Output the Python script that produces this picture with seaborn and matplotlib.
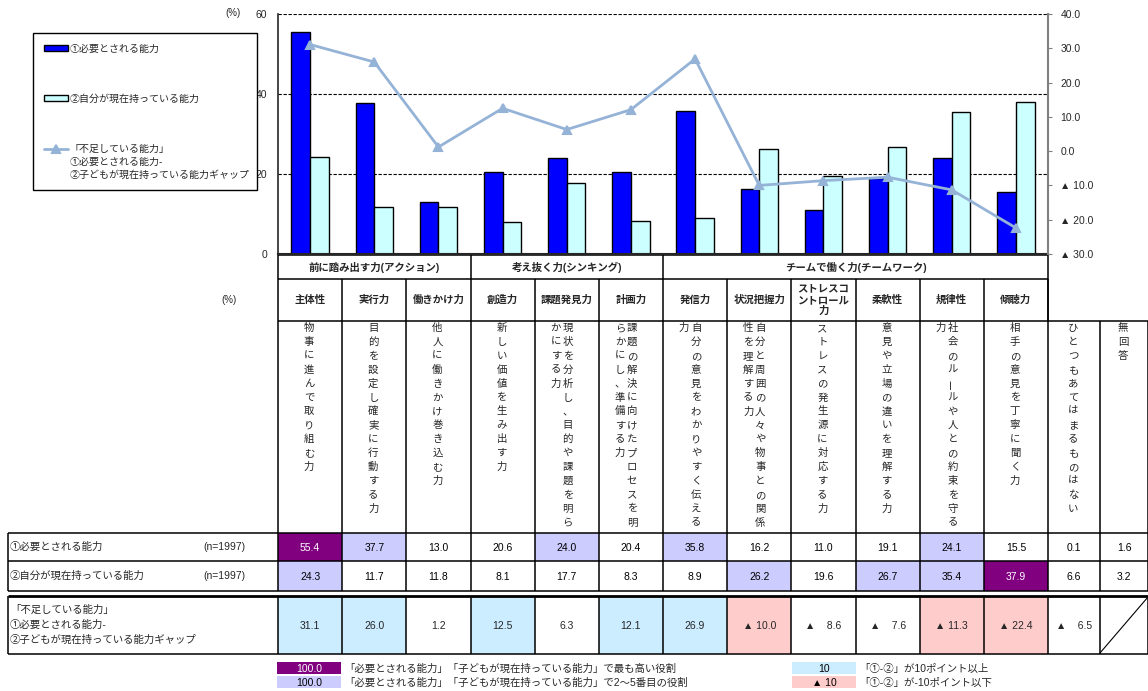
import numpy as np
import pandas as pd
import matplotlib
matplotlib.use('Agg')
import matplotlib.pyplot as plt
from matplotlib.patches import Rectangle
from matplotlib.legend_handler import HandlerLine2D
import seaborn as sns

sns.set_style('white')
plt.rcParams['font.family'] = ['Liberation Sans', 'Noto Sans CJK JP', 'DejaVu Sans']

# data
abilities = ['主体性', '実行力', '働きかけ力', '創造力', '課題発見力', '計画力',
             '発信力', '状況把握力', 'ストレスコ\nントロール\n力', '柔軟性', '規律性', '傾聴力']
needed = [55.4, 37.7, 13.0, 20.6, 24.0, 20.4, 35.8, 16.2, 11.0, 19.1, 24.1, 15.5]
own = [24.3, 11.7, 11.8, 8.1, 17.7, 8.3, 8.9, 26.2, 19.6, 26.7, 35.4, 37.9]
gap = [31.1, 26.0, 1.2, 12.5, 6.3, 12.1, 26.9, -10.0, -8.6, -7.6, -11.3, -22.4]
groups = ['前に踏み出す力(アクション)', '考え抜く力(シンキング)', 'チームで働く力(チームワーク)']
group_sizes = [3, 3, 6]
# description columns, right column first (vertical writing)
descriptions = [
    ['物事に進んで取り組む力'],
    ['目的を設定し確実に行動する力'],
    ['他人に働きかけ巻き込む力'],
    ['新しい価値を生み出す力'],
    ['現状を分析し、目的や課題を明ら', 'かにする力'],
    ['課題の解決に向けたプロセスを明', 'らかにし、準備する力'],
    ['自分の意見をわかりやすく伝える', '力'],
    ['自分と周囲の人々や物事との関係', '性を理解する力'],
    ['ストレスの発生源に対応する力'],
    ['意見や立場の違いを理解する力'],
    ['社会のルールや人との約束を守る', '力'],
    ['相手の意見を丁寧に聞く力'],
    ['ひとつもあてはまるものはない'],
    ['無回答'],
]
extra_needed = [0.1, 1.6]
extra_own = [6.6, 3.2]
extra_gap = [-6.5, None]

lab1 = '①必要とされる能力'
lab2 = '②自分が現在持っている能力'
lab3 = '「不足している能力」\n①必要とされる能力-\n②子どもが現在持っている能力ギャップ'

C_BLUE = '#0000FF'
C_CYAN = '#CCFFFF'
C_LINE = '#95B3D7'
C_TOP = '#800080'
C_RANK = '#CCCCFF'
C_PLUS = '#CCECFF'
C_MINUS = '#FFCCCC'


def tri(v):
    # Excel style negative: ▲ + padded number
    s = f'{abs(v):.1f}'
    return '▲ ' + ' ' * (3 * (4 - len(s))) + s


class TopLineHandler(HandlerLine2D):
    # keep the line handle level with the first text line
    def create_artists(self, *args, **kwargs):
        arts = super().create_artists(*args, **kwargs)
        for a in arts:
            a.set_ydata(np.asarray(a.get_ydata()) + 10)
        return arts


W, H = 1148, 691
fig = plt.figure(figsize=(W / 100, H / 100), dpi=100)

# overlay in pixel coordinates for the table part
tab = fig.add_axes([0, 0, 1, 1])
tab.set_xlim(0, W)
tab.set_ylim(H, 0)
tab.axis('off')

ax = fig.add_axes([278 / W, 1 - 254 / H, 770 / W, 240 / H])

df = pd.DataFrame({'ability': abilities * 2,
                   'value': needed + own,
                   'series': [lab1] * len(abilities) + [lab2] * len(abilities)})
sns.barplot(data=df, x='ability', y='value', hue='series', order=abilities,
            hue_order=[lab1, lab2], palette=[C_BLUE, C_CYAN], saturation=1,
            edgecolor='black', linewidth=1, width=0.58, ax=ax, legend=False)

ax2 = ax.twinx()
sns.pointplot(x=abilities, y=gap, order=abilities, color=C_LINE, markers='^',
              linestyles='-', markersize=5.5, linewidth=2, errorbar=None, ax=ax2)

n = len(abilities)
ax.set_xlim(-0.5, n - 0.5)
ax.set_ylim(0, 60)
ax2.set_ylim(-30, 40)
ax.set_xticks([])
ax.set_xticks(np.arange(0.5, n - 1, 1), minor=True)
ax.tick_params(axis='x', which='minor', direction='in', length=4, color='#999999', width=0.8)
ax.set_xlabel('')
ax.set_ylabel('')
ax2.set_ylabel('')
ax.set_yticks([0, 20, 40, 60])
ax.tick_params(axis='y', length=0, pad=8, labelsize=7.5)
ax.grid(axis='y', linestyle=(0, (3, 1.5)), color='black', linewidth=0.8)
ax.set_axisbelow(True)
ax2.set_yticks(range(-30, 41, 10))
ax2.set_yticklabels([f'{v:.1f}' if v >= 0 else f'▲ {abs(v):.1f}' for v in range(-30, 41, 10)])
ax2.tick_params(axis='y', direction='out', length=3, color='#808080', pad=6, labelsize=7.5)
for s in ['top', 'right']:
    ax.spines[s].set_visible(False)
for s in ['top', 'left', 'bottom']:
    ax2.spines[s].set_visible(False)
ax2.spines['right'].set_color('#808080')
ax2.spines['right'].set_linewidth(1.5)
ax.spines['left'].set_linewidth(1.2)
ax.spines['bottom'].set_linewidth(1.5)

leg = fig.legend([ax.containers[0], ax.containers[1], ax2.lines[0]], [lab1, lab2, lab3],
                 handler_map={ax2.lines[0]: TopLineHandler()},
                 loc='upper left', bbox_to_anchor=(33 / W, 1 - 33 / H - 0.01, 224 / W, 0.01),
                 mode='expand', fontsize=7.2, frameon=True, fancybox=False,
                 edgecolor='black', framealpha=1, handlelength=2.4, handleheight=0.5,
                 handletextpad=0.2, labelspacing=4.0, borderpad=1.05, borderaxespad=0)
leg.get_frame().set_linewidth(1.0)
for t in leg.get_texts():
    t.set_linespacing(1.4)

tab.text(233, 13, '(%)', ha='center', va='center', fontsize=7)
tab.text(229, 300, '(%)', ha='center', va='center', fontsize=7)

# ---- table ----
edges = [278 + i * 770 / n for i in range(n + 1)]
ext_edges = edges + [1100, 1148]
centers = [(a + b) / 2 for a, b in zip(ext_edges[:-1], ext_edges[1:])]
LW = 1.1


def hline(y, x0, x1, lw=LW):
    tab.plot([x0, x1], [y, y], color='black', lw=lw, solid_capstyle='butt')


def vline(x, y0, y1, lw=LW):
    tab.plot([x, x], [y0, y1], color='black', lw=lw, solid_capstyle='butt')


# group header row
start = 0
for g, size in zip(groups, group_sizes):
    x0, x1 = edges[start], edges[start + size]
    tab.text((x0 + x1) / 2, 267, g, ha='center', va='center', fontsize=7.5, fontweight='bold')
    vline(x0, 255, 279)
    start += size
vline(edges[-1], 255, 321)
hline(255, edges[0], edges[-1])
hline(279, edges[0], edges[-1])

# ability names
for i, name in enumerate(abilities):
    tab.text(centers[i], 300, name, ha='center', va='center', fontsize=7.5,
             fontweight='bold', linespacing=1.15)
for x in edges:
    vline(x, 279, 321)
hline(321, edges[0], W)

# vertical descriptions
STEP = 13.9
for i, cols in enumerate(descriptions):
    if len(cols) == 1:
        xs = [centers[i] - 1]
    else:
        xs = [centers[i] + 1, centers[i] - 11]
    for xc, s in zip(xs, cols):
        for k, ch in enumerate(s):
            tab.text(xc, 328 + k * STEP, ch, ha='center', va='center', fontsize=7.5,
                     rotation=90 if ch == 'ー' else 0)
for x in ext_edges:
    vline(x, 321, 533)

# value rows
all_needed = needed + extra_needed
all_own = own + extra_own
all_gap = gap + extra_gap
rows = [(lab1, needed, all_needed, 533, 561), (lab2, own, all_own, 561, 591)]
for label, vals, full, y0, y1 in rows:
    order = sorted(vals, reverse=True)
    for i, v in enumerate(full):
        fc, tc = 'white', 'black'
        if i < n and v == order[0]:
            fc, tc = C_TOP, 'white'
        elif i < n and v in order[1:5]:
            fc = C_RANK
        tab.add_patch(Rectangle((ext_edges[i], y0), ext_edges[i + 1] - ext_edges[i], y1 - y0,
                                facecolor=fc, edgecolor='none'))
        tab.text(centers[i], (y0 + y1) / 2 + 1, f'{v:.1f}', ha='center', va='center',
                 fontsize=7.5, color=tc)
    tab.text(10, (y0 + y1) / 2, label, ha='left', va='center', fontsize=7.5)
    tab.text(203, (y0 + y1) / 2, '(n=1997)', ha='left', va='center', fontsize=7.5)

for i, v in enumerate(all_gap):
    if v is None:
        tab.plot([ext_edges[i], ext_edges[i + 1]], [653, 597], color='black', lw=0.8)
        continue
    fc = C_PLUS if v >= 10 else (C_MINUS if v <= -10 else 'white')
    tab.add_patch(Rectangle((ext_edges[i], 596), ext_edges[i + 1] - ext_edges[i], 58,
                            facecolor=fc, edgecolor='none'))
    txt = f'{v:.1f}' if v >= 0 else tri(v)
    tab.text(centers[i], 626, txt, ha='center', va='center', fontsize=7.5)
tab.text(10, 625, lab3, ha='left', va='center', fontsize=7.5, linespacing=1.6)

for y in [533, 561, 591]:
    hline(y, 8, W)
hline(596, 8, W, lw=2)
hline(654, 8, W)
for x in [8] + ext_edges:
    vline(x, 533, 591)
    vline(x, 596, 654)

# footer legend
foot = [(277, 662, C_TOP, '100.0', 'white',
         '「必要とされる能力」「子どもが現在持っている能力」で最も高い役割'),
        (277, 676, C_RANK, '100.0', 'black',
         '「必要とされる能力」「子どもが現在持っている能力」で2～5番目の役割'),
        (792, 662, C_PLUS, '10', 'black', '「①-②」が10ポイント以上'),
        (792, 676, C_MINUS, '▲ 10', 'black', '「①-②」が-10ポイント以下')]
for x, y, fc, val, tc, desc in foot:
    tab.add_patch(Rectangle((x, y), 64, 12, facecolor=fc, edgecolor='none'))
    tab.text(x + 32, y + 6.5, val, ha='center', va='center', fontsize=7.5, color=tc)
    tab.text(x + 67, y + 6.5, desc, ha='left', va='center', fontsize=7.5)

fig.savefig('out.png', dpi=100)
